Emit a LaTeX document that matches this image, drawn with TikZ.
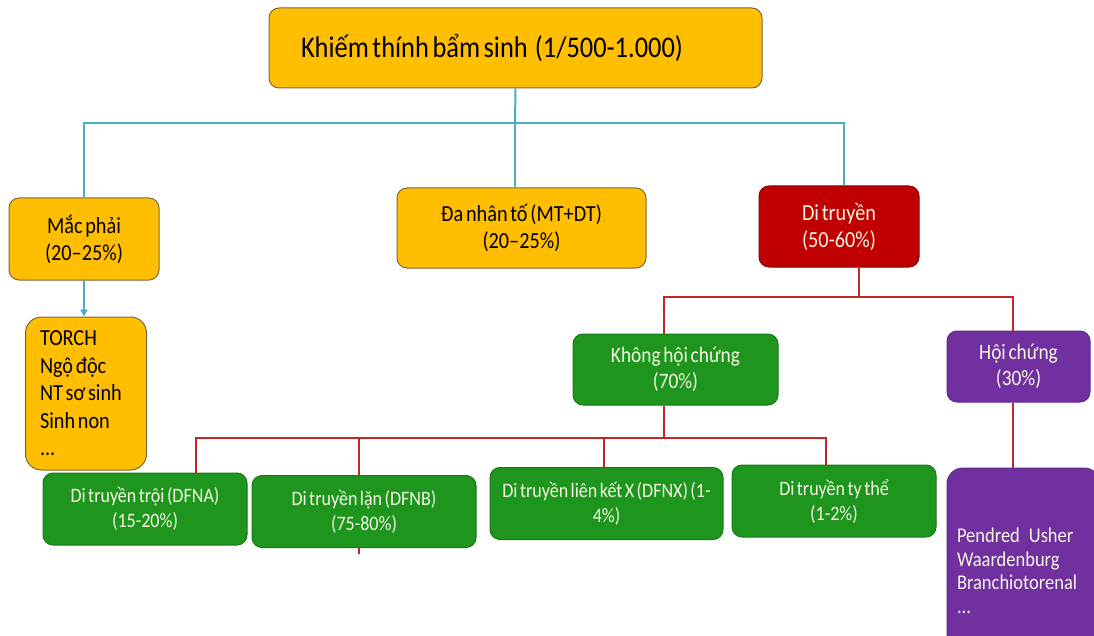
\documentclass[tikz,border=0pt]{standalone}
\usepackage{fontspec}
\setmainfont{Carlito}[FakeStretch=0.88, WordSpace=0.6]
\usetikzlibrary{arrows.meta}
\definecolor{amber}{RGB}{255,190,0}
\definecolor{amberline}{RGB}{120,105,60}
\definecolor{bluewirec}{RGB}{75,172,198}
\definecolor{redwirec}{RGB}{192,40,40}
\definecolor{genered}{RGB}{192,0,0}
\definecolor{leafgreen}{RGB}{30,150,30}
\definecolor{synpurple}{RGB}{112,48,160}
\definecolor{paletext}{RGB}{245,245,228}
\tikzset{
  box/.style={rectangle, rounded corners=10pt, line width=1pt,
    inner sep=0pt, align=center},
  lefttext/.style={align=left, execute at begin node={\spaceskip=0pt\xspaceskip=0pt\relax}},
  cause/.style={box, fill=amber, draw=amberline, text=black,
    font=\fontsize{23}{27}\selectfont},
  gene/.style={box, fill=genered, draw=genered!70!black, text=paletext,
    font=\fontsize{23}{27}\selectfont},
  nonsyn/.style={box, fill=leafgreen, draw=leafgreen!80!black, text=paletext,
    font=\fontsize{22}{26}\selectfont},
  syn/.style={box, fill=synpurple, draw=synpurple!85!black, text=paletext,
    font=\fontsize{22}{26}\selectfont},
  leaf/.style={minimum height=72pt, font=\fontsize{20.5}{25}\selectfont},
  title/.style={font=\fontsize{30}{34}\selectfont},
  bluewire/.style={draw=bluewirec, line width=2pt},
  redwire/.style={draw=redwirec, line width=2pt}
}

\begin{document}
\begin{tikzpicture}[x=1pt, y=-1pt]
\useasboundingbox (0,0) rectangle (1094,636);

%% ── Root ───────────────────────────────────────────────
\node[cause, title, minimum width=493pt, minimum height=80pt,
      text width=429pt, lefttext] (root) at (515.5,48)
      {Khiếm thính bẩm sinh~ (1/500-1.000)};

%% ── Causes ─────────────────────────────────────────────
\node[cause, minimum width=150pt, minimum height=82pt] (macphai)  at (84,239)    {Mắc phải\\(20–25\%)};
\node[cause, minimum width=249pt, minimum height=80pt] (danhanto) at (521.5,228) {Đa nhân tố (MT+DT)\\(20–25\%)};
\node[gene,  minimum width=160pt, minimum height=81pt] (ditruyen) at (839,226.5) {Di truyền\\(50-60\%)};

\node[cause, minimum width=121pt, minimum height=153pt, text width=92pt,
      lefttext, rounded corners=16pt, font=\fontsize{23}{27.5}\selectfont]
      (torch) at (86,393.5) {TORCH\\Ngộ độc\\NT sơ sinh\\Sinh non\\...};

%% ── Di truyền ──────────────────────────────────────────
\node[nonsyn, minimum width=205pt, minimum height=71pt] (khong)    at (675.5,369.5)  {Không hội chứng\\(70\%)};
\node[syn,    minimum width=143pt, minimum height=71pt] (hoichung) at (1018.5,366.5) {Hội chứng\\(30\%)};
\node[syn, minimum width=153pt, minimum height=206pt, text width=133pt,
      lefttext, rounded corners=16pt, font=\fontsize{21}{23.5}\selectfont]
      (pendred) at (1023.5,571) {Pendred\hspace{9pt}Usher\\Waardenburg\\Branchiotorenal\\...};

%% ── Không hội chứng ────────────────────────────────────
\node[nonsyn, leaf, minimum width=204pt] (dfna)  at (145,509)     {Di truyền trội (DFNA)\\(15-20\%)};
\node[nonsyn, leaf, minimum width=224pt] (dfnb)  at (364,511.5)   {Di truyền lặn (DFNB)\\(75-80\%)};
\node[nonsyn, leaf, minimum width=233pt] (dfnx)  at (606.5,503.5) {Di truyền liên kết X (DFNX) (1-\\4\%)};
\node[nonsyn, leaf, minimum width=204pt] (tythe) at (834,501)     {Di truyền ty thể\\(1-2\%)};

%% ── Blue connectors ────────────────────────────────────
\coordinate (bluebus) at (515,123);
\draw[bluewire] (root.south) -- (bluebus);
\draw[bluewire] (macphai.north) |- (bluebus) -| ([xshift=5pt]ditruyen.north);
\draw[bluewire] (bluebus) -- (bluebus |- danhanto.north);
\draw[bluewire, -{Triangle[length=7pt, width=7pt]}] (macphai.south) -- (macphai.south |- torch.north);

%% ── Red connectors ─────────────────────────────────────
\coordinate (redbus)  at (859,297);
\coordinate (leafbus) at (664,438);
\draw[redwire] ([xshift=20pt]ditruyen.south) -- (redbus);
\draw[redwire] (leafbus |- khong.north) |- (redbus) -| ([xshift=-6pt]hoichung.north);
\draw[redwire] ([xshift=-6pt]hoichung.south) -- ([xshift=-6pt]hoichung.south |- pendred.north);
\draw[redwire] (leafbus |- khong.south) -- (leafbus);
\draw[redwire] ([xshift=51pt]dfna.north) |- (leafbus) -| ([xshift=-8pt]tythe.north);
\draw[redwire] ([xshift=-5pt]dfnb.north |- leafbus) -- ([xshift=-5pt]dfnb.north);
\draw[redwire] ([xshift=-5pt]dfnb.south) -- ++(0,6);
\draw[redwire] ([xshift=-3pt]dfnx.north |- leafbus) -- ([xshift=-3pt]dfnx.north);

\end{tikzpicture}
\end{document}
